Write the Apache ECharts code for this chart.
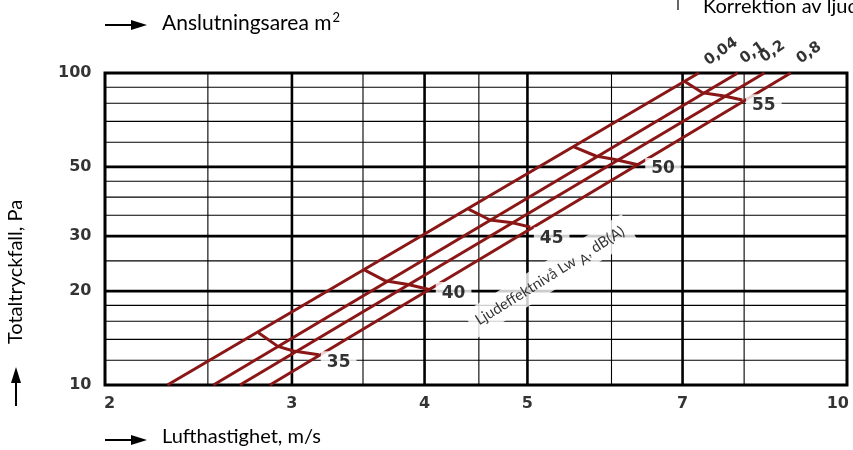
<!DOCTYPE html>
<html>
<head>
<meta charset="utf-8">
<script src="https://cdn.jsdelivr.net/npm/echarts@6/dist/echarts.min.js"></script>
<style>html,body{margin:0;padding:0;background:#fff}#c{width:853px;height:450px}</style>
</head>
<body>
<div id="c"></div>
<script>
// ---- data ----
const xTicks = [2, 3, 4, 5, 7, 10];
const yTicks = [10, 20, 30, 50, 100];
const xGridThin = [2.5, 3.5, 4.5, 6, 8];
const xGridBold = [3, 4, 5, 7];
const yGridThin = [12, 14, 16, 18, 25, 35, 40, 45, 60, 70, 80, 90];
const yGridBold = [20, 30, 50];

// area lines (m²): [velocity m/s, pressure Pa]
const areaNames = ['0,04', '0,1', '0,2', '0,8'];
const area004 = [[2.29, 10], [7.25, 100]];
const area01  = [[2.53, 10], [7.89, 100]];
const area02  = [[2.68, 10], [8.36, 100]];
const area08  = [[2.86, 10], [8.85, 100]];
const areaLabelPos = [[7.61, 117], [8.15, 116], [8.51, 117], [9.21, 116]];

// sound power level contours dB(A)
const levelNames = ['35', '40', '45', '50', '55'];
const lw35 = [[2.79, 14.7], [2.91, 13.3], [3.01, 12.85], [3.18, 12.5]];
const lw40 = [[3.51, 23.4], [3.67, 21.6], [3.86, 21.0], [4.05, 20.2]];
const lw45 = [[4.40, 36.6], [4.61, 33.8], [4.82, 33.2], [5.03, 32.1]];
const lw50 = [[5.53, 58.0], [5.80, 54.2], [6.03, 52.9], [6.37, 50.7]];
const lw55 = [[7.04, 93.8], [7.31, 86.5], [7.66, 84.4], [7.97, 81.9]];
const levelLabelPos = [[3.32, 12], [4.26, 20], [5.27, 30], [6.71, 50], [8.35, 80]];
const noteLabelPos = [5.25, 22.4];

// ---- chart ----
const RED = '#8a1616';
const FONT = 'Lato, "DejaVu Sans", sans-serif';
const BFONT = '"DejaVu Sans", sans-serif';
const series = [];

function gridLine(data, w, z) {
  return { type: 'line', data: data, symbol: 'none', silent: true, z: z,
    lineStyle: { color: '#000', width: w }, animation: false };
}
xGridThin.forEach(v => series.push(gridLine([[v, 10], [v, 100]], 1.1, 1)));
yGridThin.forEach(p => series.push(gridLine([[2, p], [10, p]], 1.1, 1)));
xGridBold.forEach(v => series.push(gridLine([[v, 10], [v, 100]], 2.6, 2)));
yGridBold.forEach(p => series.push(gridLine([[2, p], [10, p]], 2.6, 2)));

[area004, area01, area02, area08].forEach((d, i) => series.push({
  type: 'line', name: areaNames[i], data: d, symbol: 'none', z: 4,
  lineStyle: { color: RED, width: 3 }, animation: false
}));
[lw35, lw40, lw45, lw50, lw55].forEach((d, i) => series.push({
  type: 'line', name: levelNames[i] + ' dB(A)', data: d, symbol: 'none', z: 4,
  lineStyle: { color: RED, width: 3 }, animation: false
}));

function labelSeries(data, label, z) {
  return { type: 'scatter', data: data, symbolSize: 1, clip: false, silent: true, z: z || 6,
    itemStyle: { color: 'rgba(0,0,0,0)' }, label: Object.assign({ show: true }, label), animation: false };
}
// tick labels
series.push(labelSeries(xTicks.map((v, i) => {
  const item = { value: [v, 10] };
  if (i === 0) item.label = { align: 'left', offset: [-1, 0] };
  if (i === xTicks.length - 1) item.label = { align: 'right', offset: [2, 0] };
  return item;
}), {
  position: 'bottom', distance: 10, formatter: p => p.value[0],
  color: '#000', fontFamily: BFONT, fontWeight: 'bold', fontSize: 16
}));
series.push(labelSeries(yTicks.map(p => [2, p]), {
  position: 'left', distance: 13, formatter: p => p.value[1],
  color: '#000', fontFamily: BFONT, fontWeight: 'bold', fontSize: 16
}));
// level labels
series.push(labelSeries(levelLabelPos.map((p, i) => ({ value: p, name: levelNames[i] })), {
  position: 'inside', offset: [0, 2], formatter: p => p.name,
  color: '#000', fontFamily: BFONT, fontWeight: 'bold', fontSize: 17,
  backgroundColor: '#fff', padding: [3, 6, 2, 6]
}, 7));
// area labels
series.push(labelSeries(areaLabelPos.map((p, i) => ({ value: p, name: areaNames[i] })), {
  position: 'inside', rotate: 35, formatter: p => p.name,
  color: '#000', fontFamily: BFONT, fontWeight: 'bold', fontSize: 15
}, 7));
// note
series.push(labelSeries([{ value: noteLabelPos, name: 'note' }], {
  position: 'inside', rotate: 32,
  formatter: () => 'Ljudeffektnivå Lw{s|A}, dB(A)',
  color: '#000', fontFamily: FONT, fontSize: 15,
  backgroundColor: '#fff', padding: [3, 7, 3, 7],
  rich: { s: { fontFamily: FONT, fontSize: 14, padding: [9, 0, 0, 4], color: '#000' } }
}, 7));

const chart = echarts.init(document.getElementById('c'), null, { renderer: 'canvas' });
chart.setOption({
  animation: false,
  backgroundColor: '#fff',
  grid: { left: 105, right: 6, top: 73, bottom: 65, show: true,
    borderColor: '#000', borderWidth: 3, backgroundColor: 'transparent' },
  xAxis: { type: 'log', logBase: 10, min: 2, max: 10,
    axisLine: { show: false }, axisTick: { show: false }, axisLabel: { show: false }, splitLine: { show: false } },
  yAxis: { type: 'log', logBase: 10, min: 10, max: 100,
    axisLine: { show: false }, axisTick: { show: false }, axisLabel: { show: false }, splitLine: { show: false } },
  graphic: [
    // top title with arrow
    { type: 'line', shape: { x1: 105, y1: 25, x2: 134, y2: 25 }, style: { stroke: '#000', lineWidth: 2 } },
    { type: 'polygon', shape: { points: [[131, 20], [147, 25], [131, 30]] }, style: { fill: '#000' } },
    { type: 'text', left: 162, top: 11, style: {
      text: 'Anslutningsarea m{sup|2}', fill: '#000', font: '21px ' + FONT,
      rich: { sup: { fontSize: 13, fontFamily: FONT, padding: [0, 0, 12, 1], fill: '#000' } } } },
    // bottom title with arrow
    { type: 'line', shape: { x1: 105, y1: 440, x2: 134, y2: 440 }, style: { stroke: '#000', lineWidth: 2 } },
    { type: 'polygon', shape: { points: [[131, 435], [147, 440], [131, 445]] }, style: { fill: '#000' } },
    { type: 'text', left: 162, top: 427, style: { text: 'Lufthastighet, m/s', fill: '#000', font: '20px ' + FONT } },
    // y title with arrow
    { type: 'line', shape: { x1: 16, y1: 406, x2: 16, y2: 380 }, style: { stroke: '#000', lineWidth: 2 } },
    { type: 'polygon', shape: { points: [[11, 383], [16, 367], [21, 383]] }, style: { fill: '#000' } },
    { type: 'text', x: 16, y: 272, rotation: Math.PI / 2, style: {
      text: 'Totaltryckfall, Pa', fill: '#000', font: '20px ' + FONT, align: 'center', verticalAlign: 'middle' } },
    // top-right note (cut off)
    { type: 'line', shape: { x1: 678, y1: 0, x2: 678, y2: 10 }, style: { stroke: '#000', lineWidth: 1.2 } },
    { type: 'text', x: 703, y: 17, style: { text: 'Korrektion av ljudeffektnivå', fill: '#000',
      font: '20px ' + FONT, verticalAlign: 'bottom' } }
  ],
  series: series
});
</script>
</body>
</html>
